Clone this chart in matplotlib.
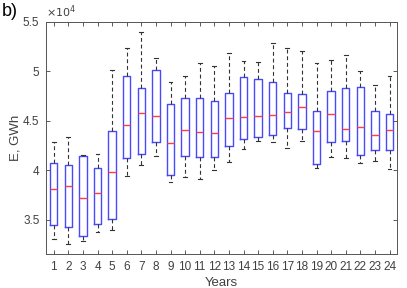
import numpy as np
import matplotlib
matplotlib.use('Agg')
from matplotlib import pyplot as plt

plt.rcParams['font.family'] = ['Liberation Sans', 'DejaVu Sans']

years = list(range(1, 25))
# values in units of 1e4 GWh
whi_hi = [4.29, 4.34, 4.16, 4.17, 5.01, 5.24, 5.40, 5.14, 4.89, 4.95, 5.08, 5.05,
          5.19, 5.10, 5.09, 5.29, 5.24, 5.21, 5.08, 5.11, 5.17, 5.00, 4.86, 4.95]
q3 = [4.07, 4.05, 4.15, 4.02, 4.40, 4.95, 4.83, 5.01, 4.67, 4.73, 4.73, 4.70,
      4.78, 4.94, 4.92, 4.89, 4.78, 4.77, 4.60, 4.80, 4.83, 4.84, 4.60, 4.57]
med = [3.81, 3.84, 3.72, 3.77, 3.98, 4.46, 4.58, 4.55, 4.28, 4.41, 4.39, 4.38,
       4.53, 4.54, 4.55, 4.56, 4.59, 4.64, 4.40, 4.57, 4.42, 4.44, 4.36, 4.41]
q1 = [3.45, 3.43, 3.34, 3.46, 3.51, 4.12, 4.17, 4.29, 3.95, 4.15, 4.14, 4.14,
      4.25, 4.32, 4.34, 4.36, 4.43, 4.42, 4.06, 4.29, 4.30, 4.16, 4.21, 4.21]
whi_lo = [3.31, 3.26, 3.29, 3.38, 3.40, 3.94, 4.05, 4.15, 3.88, 3.93, 3.91, 4.00,
          4.08, 4.22, 4.30, 4.29, 4.23, 4.30, 4.02, 4.14, 4.12, 4.07, 4.09, 4.01]

stats = []
for i in range(len(years)):
    stats.append({'whislo': whi_lo[i] * 1e4, 'q1': q1[i] * 1e4, 'med': med[i] * 1e4,
                  'q3': q3[i] * 1e4, 'whishi': whi_hi[i] * 1e4, 'fliers': []})

txt = '#404040'
fig = plt.figure(figsize=(4.07, 2.88), dpi=100)
ax = fig.add_axes([0.114, 0.118, 0.861, 0.806])

ax.bxp(stats, positions=years, widths=0.5, showfliers=False,
       boxprops=dict(color='#4848ff', linewidth=1.0),
       medianprops=dict(color='#ff4040', linewidth=1.0),
       whiskerprops=dict(color='#333333', linestyle=(0, (3.5, 2.5)), linewidth=0.8),
       capprops=dict(color='#333333', linewidth=0.8))
ax.set_xlim(0.5, 24.5)
ax.set_ylim(3.155e4, 5.5e4)
ax.set_yticks([3.5e4, 4e4, 4.5e4, 5e4, 5.5e4])
ax.set_yticklabels(['3.5', '4', '4.5', '5', '5.5'])
ax.set_xticks(years)
ax.set_xticklabels([str(y) for y in years])
ax.tick_params(direction='in', length=3, labelsize=8.5, colors=txt,
               top=True, right=True, width=0.6, pad=5)
for s in ax.spines.values():
    s.set_color('#555555')
    s.set_linewidth(0.7)
ax.set_xlabel('Years', fontsize=9.5, color=txt, labelpad=3)
ax.set_ylabel('E, GWh', fontsize=9.5, color=txt)
ax.yaxis.set_label_coords(-0.07, 0.5)
ax.text(0.0, 1.01, r'$\times10^4$', transform=ax.transAxes, fontsize=8,
        color=txt, va='bottom')
fig.text(0.005, 0.99, 'b)', fontsize=13, va='top', ha='left')

plt.savefig('out.png', dpi=100)
